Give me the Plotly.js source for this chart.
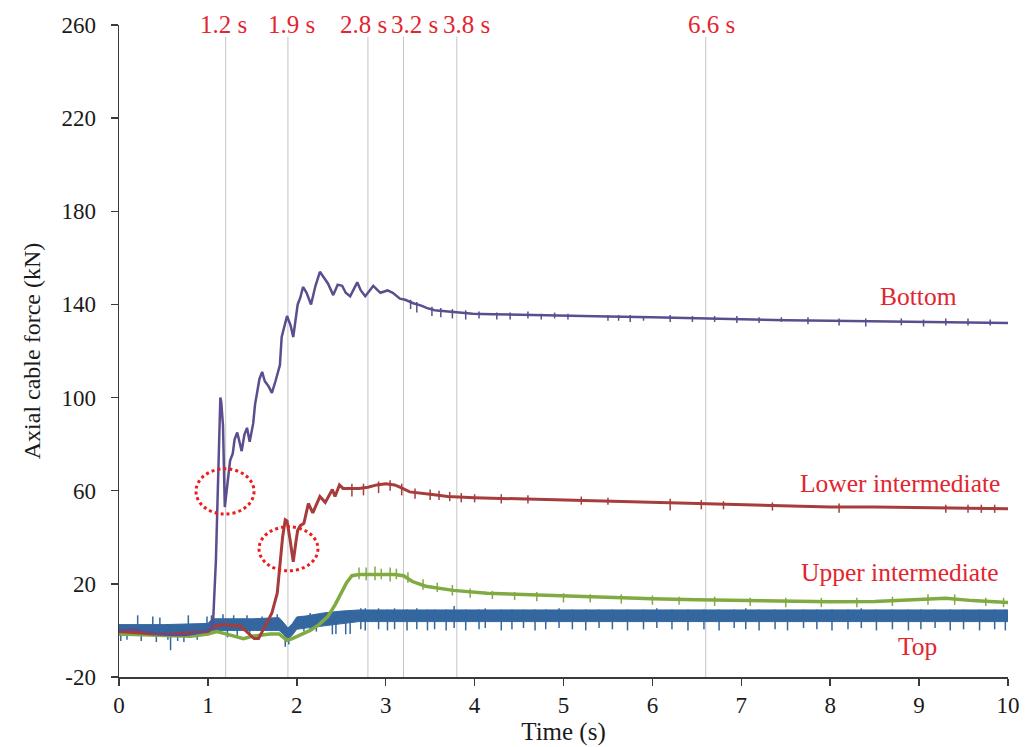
<!DOCTYPE html>
<html>
<head>
<meta charset="utf-8">
<script src="https://cdn.plot.ly/plotly-3.0.1.min.js"></script>
<style>
  html, body { margin: 0; padding: 0; background: #ffffff; }
  #chart { width: 1025px; height: 747px; }
</style>
</head>
<body>
<div id="chart"></div>
<script>
// Axial cable force histories of the four cables (kN) against time (s)

// Bottom cable
const bottomX = [0, 0.15, 0.3, 0.45, 0.6, 0.75, 0.9, 1.0, 1.04, 1.06, 1.09, 1.12, 1.14, 1.15, 1.17, 1.19,
  1.22, 1.25, 1.28, 1.30, 1.33, 1.36, 1.38, 1.41, 1.44, 1.47, 1.51, 1.53, 1.56, 1.58, 1.61, 1.64, 1.68,
  1.72, 1.76, 1.81, 1.83, 1.86, 1.89, 1.93, 1.96, 2.01, 2.04, 2.07, 2.11, 2.16, 2.21, 2.26, 2.30, 2.35,
  2.41, 2.46, 2.51, 2.55, 2.60, 2.64, 2.68, 2.72, 2.77, 2.82, 2.86, 2.94, 3.02, 3.08, 3.16, 3.22, 3.31,
  3.40, 3.46, 3.55, 3.69, 3.85, 3.98, 4.2, 4.5, 5.0, 5.5, 6.0, 6.5, 7.0, 7.5, 8.0, 8.5, 9.0, 9.5, 10];
const bottomY = [0, 0.5, -0.5, -1.5, -2, -2, -1, 0, 1, 5, 30, 72, 100, 98, 88, 53,
  64, 73, 76, 82, 85, 80, 77, 84, 87, 81, 89, 97, 104, 108, 111, 107, 105,
  102, 107, 114, 126, 131, 135, 131, 126, 140, 143, 147.5, 145, 140, 148, 154, 152, 149,
  144, 148.5, 148, 145, 143.5, 146.5, 149.5, 146, 143.5, 146, 148, 145, 146, 145, 142.5, 142, 140.5,
  139.5, 138.5, 137.5, 137, 136.5, 136, 135.8, 135.5, 135, 134.8, 134.5, 134, 133.5, 133.2, 133, 132.7, 132.5, 132.2, 132];

// Lower intermediate cable
const lowerX = [0, 0.2, 0.4, 0.6, 0.8, 1.0, 1.08, 1.2, 1.3, 1.36, 1.42, 1.48, 1.52, 1.57, 1.62, 1.66,
  1.72, 1.78, 1.81, 1.84, 1.87, 1.89, 1.92, 1.95, 1.96, 1.99, 2.01, 2.04, 2.08, 2.13, 2.18, 2.26, 2.32,
  2.40, 2.43, 2.48, 2.52, 2.6, 2.7, 2.8, 2.9, 3.0, 3.1, 3.16, 3.27, 3.5, 3.7, 4.0, 4.5, 5.0, 5.5, 6.0,
  6.5, 7.0, 7.5, 8.0, 8.5, 9.0, 9.5, 10];
const lowerY = [-0.5, -1, -1.5, -1.5, -1, -0.5, 2, 2.5, 2, 2, 0, -2, -3.5, -3.5, 0, 3,
  7.5, 16, 27, 40, 47.5, 47, 40, 33, 29.5, 38, 43, 45, 46, 54.5, 50.5, 57.5, 55,
  60.5, 57.5, 62.5, 61, 61, 61, 61.5, 62.5, 63, 62.5, 61.5, 59.5, 58.5, 57.5, 57, 56.5, 56, 55.5, 55,
  54.5, 54, 53.5, 53, 53, 52.7, 52.5, 52.3];

// Upper intermediate cable
const upperX = [0, 0.3, 0.6, 0.8, 1.0, 1.1, 1.2, 1.3, 1.4, 1.5, 1.6, 1.7, 1.8, 1.85, 1.89, 1.95,
  2.04, 2.15, 2.25, 2.35, 2.43, 2.5, 2.56, 2.62, 2.7, 2.9, 3.1, 3.2, 3.3, 3.45, 3.6, 3.76, 4.14, 4.5,
  4.81, 5.0, 5.5, 6.0, 6.5, 7.0, 7.5, 8.0, 8.5, 9.0, 9.3, 9.6, 10];
const upperY = [-1.5, -2, -2.5, -2.5, -1.5, -0.5, -1.5, -2.5, -3.5, -2.5, -2, -1.5, -1.5, -3, -4.2, -3.5,
  -2, 0, 2.5, 6, 11, 16, 20.5, 23.5, 24, 24, 24, 23.5, 21, 19, 18, 17.2, 16, 15.5,
  15.2, 14.8, 14.2, 13.6, 13.2, 12.8, 12.5, 12.3, 12.4, 13.2, 13.8, 12.8, 12];

// Top cable: the record is a dense noisy band, given by its lower and upper edges
const topX = [0, 0.5, 1.0, 1.05, 1.5, 1.8, 1.86, 1.9, 1.95, 2.0, 2.1, 2.3, 2.5, 2.7, 4.0, 6.0, 8.0, 10];
const topLo = [-2, -2, -1.5, 0, 0, 0, -2, -4, -2, 0.5, 1, 2, 3, 3.8, 3.8, 3.8, 3.8, 3.8];
const topHi = [2.5, 2.5, 3, 5, 5, 5.5, 3, 1, 3, 5.8, 6.2, 7.5, 8.3, 8.8, 8.8, 8.8, 8.8, 8.8];

// Individual noise spikes of each record: time, low end, high end
const topSpikeX = [0.02, 0.09, 0.21, 0.25, 0.38, 0.42, 0.46, 0.55, 0.58, 0.66, 0.73, 0.78, 0.88, 0.99,
  1.04, 1.17, 1.22, 1.29, 1.33, 1.44, 1.47, 1.61, 1.70, 1.78, 1.87, 1.91,
  2.08, 2.15, 2.22, 2.40, 2.44, 2.55, 2.60, 2.72, 2.77, 2.92, 3.02, 3.10, 3.24, 3.35, 3.47, 3.55, 3.68,
  3.77, 3.90, 4.05, 4.12, 4.30, 4.42, 4.55, 4.68, 4.80, 4.95, 5.10, 5.25, 5.40, 5.55, 5.72, 5.90, 6.05,
  6.22, 6.40, 6.58, 6.75, 6.92, 7.05, 7.20, 7.38, 7.52, 7.70, 7.85, 8.02, 8.20, 8.35, 8.52, 8.70, 8.88,
  9.02, 9.18, 9.35, 9.50, 9.68, 9.85, 9.97];
const topSpikeLo = [-4.5, -4, -1, -4.5, -1, -5, -1, -4, -8.5, -4.5, -5, 0, -4, 0,
  0, 1, -3, 1, -3, 1, -2.5, 1, 1, 1, -7, -6,
  -0.5, 0, -0.5, -1.7, -1.5, -1.7, -1.5, 0.5, 0, 0.5, 0, 0.5, 0, 0.5, 0, 0.5, 0,
  1, 0, 0.5, 1, 0, 0.5, 1, 0, 0.5, 1, 0.5, 0, 1, 0.5, 0, 0.5, 1,
  0.5, 0, 0.5, 0, 1, 0.5, 0, 0.5, 0, 1, 0.5, 0, 0.5, 1, 0, 0.5, 0,
  0.5, 1, 0, 0.5, 0, 0.5, 0];
const topSpikeHi = [2, 2, 6.5, 2, 6, 1, 5.5, 1, 0, 1, 1, 6.5, 1, 6,
  6.5, 7, 2, 6.5, 2, 6.5, 2, 6, 6.5, 7, 1, 0,
  6, 7.5, 7, 5, 6, 8, 8.5, 9.5, 9.5, 9.5, 9, 9.5, 9, 9.5, 9, 9, 9,
  10.5, 9, 9, 9.5, 9, 9, 9, 9, 9, 9.5, 9, 9, 9, 9, 9, 9, 9.5,
  9, 9, 9, 9, 9, 9.5, 9, 9, 9, 9, 9, 9, 9, 9.5, 9, 9, 9,
  9, 9, 9, 9, 9, 9, 9];

const bottomSpikeX = [3.28, 3.35, 3.52, 3.62, 3.75, 3.9, 4.05, 4.25, 4.4, 4.6, 4.75, 4.9, 5.05, 5.5, 5.62,
  5.75, 5.9, 6.2, 6.45, 6.7, 6.95, 7.2, 7.45, 7.75, 8.1, 8.4, 8.8, 9.05, 9.3, 9.55, 9.8];
const bottomSpikeLo = [138, 136.5, 135, 134.5, 134, 133.5, 134, 133.5, 133.5, 134, 133.5, 134, 133.5, 133, 133,
  132.5, 133, 132.5, 132.5, 132.5, 132, 132, 132.5, 131.5, 131, 130.5, 131, 130.5, 131, 131, 131];
const bottomSpikeHi = [142, 141, 139, 138.5, 138, 137.5, 137, 136.5, 136.5, 137, 136, 136.5, 136, 135.5, 135.5,
  135.5, 135, 135.5, 135, 135, 135, 134.5, 134.5, 134.5, 134, 134, 134, 133.5, 134, 134, 133.5];

const lowerSpikeX = [2.62, 2.75, 2.92, 3.05, 3.18, 3.33, 3.5, 3.6, 3.72, 3.85, 4.0, 4.3, 4.6, 5.2, 5.5,
  6.2, 6.55, 6.8, 7.35, 8.1, 9.3, 9.55, 9.7, 9.85];
const lowerSpikeLo = [57.5, 58, 59, 60, 58, 56.5, 56, 56, 55.5, 55, 55, 54.5, 54.5, 54, 54,
  51.5, 52, 52, 51.5, 50.5, 50.5, 50.5, 50.5, 50.5];
const lowerSpikeHi = [63, 63, 64, 64.5, 63, 61, 60.5, 60, 59.5, 59, 58.5, 58.5, 58, 57.5, 57,
  56.5, 56, 55.5, 55, 54.5, 54, 54, 54, 54];

const upperSpikeX = [2.7, 2.78, 2.88, 2.95, 3.05, 3.12, 3.25, 3.42, 3.58, 3.75, 3.95, 4.2, 4.45, 4.7, 5.0,
  5.3, 5.65, 6.0, 6.3, 6.7, 7.1, 7.5, 7.9, 8.3, 8.7, 9.1, 9.4, 9.75, 9.95];
const upperSpikeLo = [22, 21.5, 21.5, 22, 21, 22, 20.5, 17.5, 16.5, 15, 14, 13.5, 13, 12.5, 12,
  12, 11.5, 11, 11, 10.5, 10.5, 10, 10, 10, 10.5, 11, 11, 10.5, 10];
const upperSpikeHi = [27, 27, 27.5, 26.5, 27, 26.5, 25, 22, 20.5, 19.5, 18, 17, 16.5, 16.5, 16,
  15.5, 15.5, 15, 14.5, 14.5, 14, 14, 14, 14, 14.5, 15.5, 15.5, 14, 14];

// Axis ticks
const xTickVals = [0, 1, 2, 3, 4, 5, 6, 7, 8, 9, 10];
const yTickVals = [-20, 20, 60, 100, 140, 180, 220, 260];
const yTickText = ['-20', '20', '60', '100', '140', '180', '220', '260'];

// Event times marked by vertical lines
const eventTimes = [1.2, 1.9, 2.8, 3.2, 3.8, 6.6];
const eventLabelShift = [-0.025, 0.04, -0.045, 0.125, 0.11, 0.06];

// Cable names written beside the records
const cableNames = ['Bottom', 'Lower intermediate', 'Upper intermediate', 'Top'];
const cableNameX = [8.99, 8.79, 8.79, 8.98];
const cableNameY = [143.2, 63.3, 24.7, -7];

const COL_TOP = '#34679f';
const COL_UPPER = '#80aa42';
const COL_LOWER = '#a63c3c';
const COL_BOTTOM = '#5c4d8e';
const COL_TEXT_RED = '#e2252f';
const SERIF = '"Liberation Serif", "Times New Roman", Times, serif';

// Build null-separated vertical segments for the spikes
function spikes(xs, lo, hi) {
  const x = [], y = [];
  for (let i = 0; i < xs.length; i++) {
    x.push(xs[i], xs[i], null);
    y.push(lo[i], hi[i], null);
  }
  return { x, y };
}

const tS = spikes(topSpikeX, topSpikeLo, topSpikeHi);
const uS = spikes(upperSpikeX, upperSpikeLo, upperSpikeHi);
const lS = spikes(lowerSpikeX, lowerSpikeLo, lowerSpikeHi);
const bS = spikes(bottomSpikeX, bottomSpikeLo, bottomSpikeHi);

const traces = [
  { x: topX, y: topLo, mode: 'lines', line: { color: COL_TOP, width: 1 }, hoverinfo: 'skip' },
  { x: topX, y: topHi, mode: 'lines', fill: 'tonexty', fillcolor: COL_TOP,
    line: { color: COL_TOP, width: 1 }, name: 'Top' },
  { x: tS.x, y: tS.y, mode: 'lines', line: { color: COL_TOP, width: 1.5 }, connectgaps: false, hoverinfo: 'skip' },

  { x: upperX, y: upperY, mode: 'lines', line: { color: COL_UPPER, width: 3.5 }, name: 'Upper intermediate' },
  { x: uS.x, y: uS.y, mode: 'lines', line: { color: COL_UPPER, width: 1.5 }, connectgaps: false, hoverinfo: 'skip' },

  { x: lowerX, y: lowerY, mode: 'lines', line: { color: COL_LOWER, width: 3 }, name: 'Lower intermediate' },
  { x: lS.x, y: lS.y, mode: 'lines', line: { color: COL_LOWER, width: 1.5 }, connectgaps: false, hoverinfo: 'skip' },

  { x: bottomX, y: bottomY, mode: 'lines', line: { color: COL_BOTTOM, width: 2.5 }, name: 'Bottom' },
  { x: bS.x, y: bS.y, mode: 'lines', line: { color: COL_BOTTOM, width: 1.5 }, connectgaps: false, hoverinfo: 'skip' }
];

const shapes = eventTimes.map(t => ({
  type: 'line', xref: 'x', yref: 'y', x0: t, x1: t, y0: -20, y1: 255,
  line: { color: '#c4c4c4', width: 1 }, layer: 'below'
}));

// Dotted rings around the sudden drops of the bottom and lower intermediate records
shapes.push(
  { type: 'circle', xref: 'x', yref: 'y', x0: 0.866, x1: 1.519, y0: 50.0, y1: 69.4,
    line: { color: '#ee1c1c', width: 3, dash: 'dot' } },
  { type: 'circle', xref: 'x', yref: 'y', x0: 1.575, x1: 2.238, y0: 25.6, y1: 44.5,
    line: { color: '#ee1c1c', width: 3, dash: 'dot' } }
);

const annotations = [];
eventTimes.forEach((t, i) => {
  annotations.push({
    x: t + eventLabelShift[i], xref: 'x', y: 1, yref: 'paper', yanchor: 'middle', yshift: 1,
    text: t.toFixed(1) + ' s', showarrow: false,
    font: { family: SERIF, size: 25, color: COL_TEXT_RED }
  });
});
cableNames.forEach((n, i) => {
  annotations.push({
    x: cableNameX[i], y: cableNameY[i], xref: 'x', yref: 'y', text: n, showarrow: false,
    font: { family: SERIF, size: 25.5, color: COL_TEXT_RED }
  });
});

const layout = {
  width: 1025, height: 747,
  margin: { l: 119, r: 17, t: 25, b: 70 },
  paper_bgcolor: '#ffffff', plot_bgcolor: '#ffffff',
  showlegend: false,
  font: { family: SERIF, size: 23, color: '#1a1a1a' },
  xaxis: {
    range: [0, 10], tickmode: 'array', tickvals: xTickVals, showgrid: false, zeroline: false,
    showline: true, linecolor: '#3a3a3a', linewidth: 1.5,
    ticks: 'outside', ticklen: 7, tickwidth: 1.5, tickcolor: '#3a3a3a',
    tickfont: { family: SERIF, size: 23, color: '#1a1a1a' },
    title: { text: 'Time (s)', font: { family: SERIF, size: 25, color: '#1a1a1a' }, standoff: 0 }
  },
  yaxis: {
    range: [-20, 260], tickmode: 'array', tickvals: yTickVals, ticktext: yTickText,
    showgrid: false, zeroline: false,
    showline: true, linecolor: '#3a3a3a', linewidth: 1.5,
    ticks: 'outside', ticklen: 7, tickwidth: 1.5, tickcolor: '#3a3a3a', ticklabelstandoff: 10,
    tickfont: { family: SERIF, size: 23, color: '#1a1a1a' },
    title: { text: 'Axial cable force (kN)', font: { family: SERIF, size: 24, color: '#1a1a1a' }, standoff: 14 }
  },
  shapes: shapes,
  annotations: annotations
};

Plotly.newPlot('chart', traces, layout, { displayModeBar: false, staticPlot: true });
</script>
</body>
</html>
